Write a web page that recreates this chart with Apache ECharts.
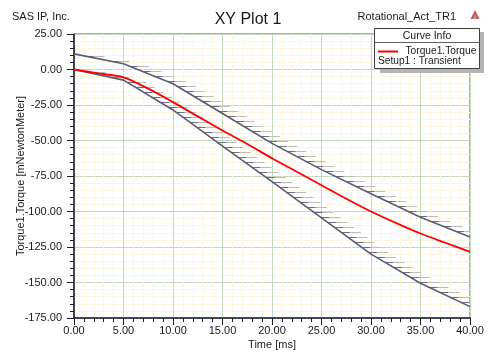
<!DOCTYPE html>
<html>
<head>
<meta charset="utf-8">
<script src="https://cdn.jsdelivr.net/npm/echarts@6/dist/echarts.min.js"></script>
<style>
html,body{margin:0;padding:0;background:#fff;}
#chart{width:496px;height:360px;}
</style>
</head>
<body>
<div id="chart"></div>
<script>
// ---- data ----
const timeRed = [0, 2.5, 5, 7.5, 10, 12.5, 15, 17.5, 20, 22.5, 25, 27.5, 30, 32.5, 35, 37.5, 40];
const torqueRed = [0, -2.8, -5.5, -13.5, -23, -33, -43, -52.5, -62.5, -72, -81.5, -91, -100, -108, -115.5, -122, -128.4];

const upperT = [0, 5, 10, 15, 20, 25, 30, 35, 40];
const upperV = [11, 4, -10, -31, -52, -70.5, -87.5, -104, -118];

const lowerT = [0, 5, 10, 15, 20, 25, 30, 35, 40];
const lowerV = [0, -7.5, -28.5, -54, -79, -104.5, -130, -150.5, -167];

const xTicks = [0, 40, 5];      // min, max, interval
const yTicks = [-175, 25, 25];  // min, max, interval

const FONT = '"Liberation Sans", Arial, sans-serif';

function zip(a, b) { return a.map((v, i) => [v, b[i]]); }

function hatchItem(ts, vs) {
  return function (params, api) {
    const pts = ts.map((t, i) => api.coord([t, vs[i]]));
    const cs = params.coordSys;
    const right = cs.x + cs.width;
    const children = [];
    const step = 5, len1 = 9, len2 = 20;
    const y0 = pts[0][1], y1 = pts[pts.length - 1][1];
    for (let y = Math.ceil(y0) + 2; y <= y1; y += step) {
      for (let k = 0; k < pts.length - 1; k++) {
        const a = pts[k], b = pts[k + 1];
        if (y >= a[1] && y <= b[1]) {
          const x = a[0] + (b[0] - a[0]) * (y - a[1]) / (b[1] - a[1]);
          const yy = Math.round(y) + 0.5;
          const xa = Math.min(x + len1, right), xb = Math.min(x + len2, right);
          children.push({type: 'line', shape: {x1: xa, y1: yy, x2: xb, y2: yy}, style: {stroke: '#bcbcbc', lineWidth: 1}});
          children.push({type: 'line', shape: {x1: x, y1: yy, x2: xa, y2: yy}, style: {stroke: '#6e6e80', lineWidth: 1}});
          break;
        }
      }
    }
    return {type: 'group', children: children};
  };
}

const chart = echarts.init(document.getElementById('chart'), null, {renderer: 'canvas'});

const axisCommon = {
  nameMoveOverlap: false,
  axisLine: {show: true, onZero: false, lineStyle: {color: '#1a1a3a', width: 1.5}},
  axisTick: {show: true, length: 7, lineStyle: {color: '#1a1a3a'}},
  minorTick: {show: true, splitNumber: 5, length: 4, lineStyle: {color: '#1a1a3a'}},
  splitLine: {show: true, lineStyle: {color: '#c6d8bc', width: 1}},
  minorSplitLine: {show: true, lineStyle: {color: '#fcf6e2', width: 1}},
  nameTextStyle: {fontFamily: FONT, fontSize: 11, color: '#1a1a1a'}
};

chart.setOption({
  animation: false,
  backgroundColor: '#ffffff',
  title: {
    text: 'XY Plot 1', left: 'center', top: 7,
    textStyle: {fontFamily: FONT, fontSize: 16, fontWeight: 'normal', color: '#1a1a1a'}
  },
  grid: {left: 74, right: 26, top: 34, bottom: 42, outerBoundsMode: 'none', containLabel: false,
         show: true, borderColor: '#5a5a70', borderWidth: 1, backgroundColor: 'transparent'},
  xAxis: Object.assign({}, axisCommon, {
    type: 'value', min: xTicks[0], max: xTicks[1], interval: xTicks[2],
    name: 'Time [ms]', nameLocation: 'middle', nameGap: 21,
    axisLabel: {margin: 7, fontFamily: FONT, fontSize: 11, color: '#1a1a1a', formatter: v => v.toFixed(2)}
  }),
  yAxis: Object.assign({}, axisCommon, {
    type: 'value', min: yTicks[0], max: yTicks[1], interval: yTicks[2],
    name: 'Torque1.Torque [mNewtonMeter]', nameLocation: 'middle', nameGap: 48, nameRotate: 90,
    axisLabel: {margin: 12, fontFamily: FONT, fontSize: 11, color: '#1a1a1a', formatter: v => v.toFixed(2)}
  }),
  series: [
    {type: 'custom', name: 'upperHatch', coordinateSystem: 'cartesian2d', data: [[0, 0]], renderItem: hatchItem(upperT, upperV), z: 2, silent: true, clip: true},
    {type: 'custom', name: 'lowerHatch', coordinateSystem: 'cartesian2d', data: [[0, 0]], renderItem: hatchItem(lowerT, lowerV), z: 2, silent: true, clip: true},
    {type: 'line', name: 'upper', data: zip(upperT, upperV), showSymbol: false, lineStyle: {color: '#5c5c78', width: 1.6}, z: 3},
    {type: 'line', name: 'lower', data: zip(lowerT, lowerV), showSymbol: false, lineStyle: {color: '#5c5c78', width: 1.6}, z: 3},
    {type: 'line', name: 'Torque1.Torque', data: zip(timeRed, torqueRed), showSymbol: false, smooth: 0.3, lineStyle: {color: '#ff0000', width: 1.8}, z: 4}
  ],
  graphic: [
    {type: 'text', left: 12, top: 11, style: {text: 'SAS IP, Inc.', fontFamily: FONT, fontSize: 11, fill: '#1a1a1a'}},
    {type: 'text', right: 40, top: 11, style: {text: 'Rotational_Act_TR1', fontFamily: FONT, fontSize: 11, fill: '#1a1a1a'}},
    {type: 'polygon', shape: {points: [[475, 10], [479.5, 19], [470.5, 19]]}, style: {fill: '#d85050'}},
    {type: 'polygon', shape: {points: [[475, 14], [477, 19], [473, 19]]}, style: {fill: '#a0a0a0'}},
    {type: 'rect', shape: {x: 380, y: 32, width: 104, height: 41}, style: {fill: '#b4b4b4'}, z: 10},
    {type: 'rect', shape: {x: 374.5, y: 28.5, width: 105, height: 40}, style: {fill: '#ffffff', stroke: '#404040', lineWidth: 1}, z: 11},
    {type: 'line', shape: {x1: 374.5, y1: 42.5, x2: 479.5, y2: 42.5}, style: {stroke: '#606060', lineWidth: 1}, z: 12},
    {type: 'text', x: 427, y: 36, style: {text: 'Curve Info', fontFamily: FONT, fontSize: 10.5, fill: '#1a1a1a', align: 'center', verticalAlign: 'middle'}, z: 12},
    {type: 'line', shape: {x1: 378, y1: 51.5, x2: 398, y2: 51.5}, style: {stroke: '#ff0000', lineWidth: 2}, z: 12},
    {type: 'text', x: 405.5, y: 51.5, style: {text: 'Torque1.Torque', fontFamily: FONT, fontSize: 10.2, fill: '#1a1a1a', align: 'left', verticalAlign: 'middle'}, z: 12},
    {type: 'text', x: 378, y: 61.5, style: {text: 'Setup1 : Transient', fontFamily: FONT, fontSize: 10.2, fill: '#1a1a1a', align: 'left', verticalAlign: 'middle'}, z: 12}
  ]
});
</script>
</body>
</html>
